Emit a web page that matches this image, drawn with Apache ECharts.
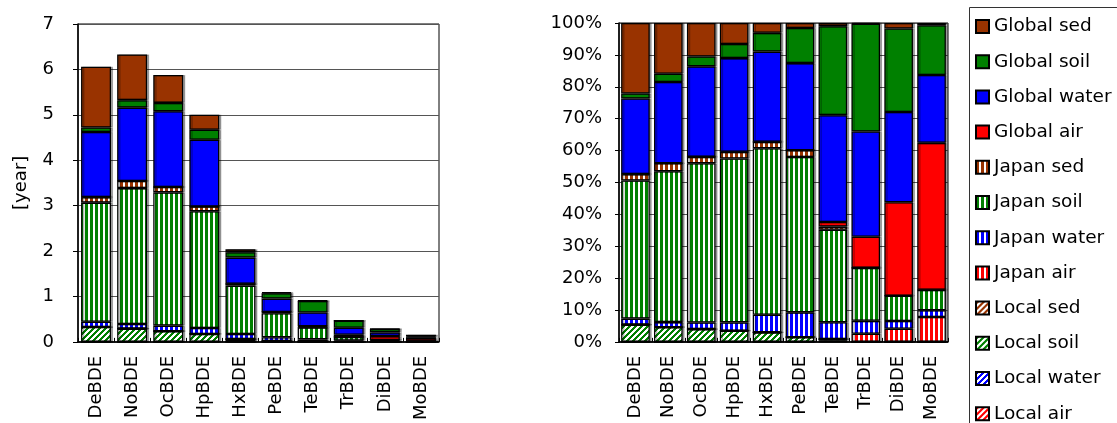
<!DOCTYPE html>
<html>
<head>
<meta charset="utf-8">
<script src="https://cdn.jsdelivr.net/npm/echarts@6/dist/echarts.min.js"></script>
<style>
  html, body { margin: 0; padding: 0; background: #fff; }
  #chart { width: 1117px; height: 423px; }
</style>
</head>
<body>
<div id="chart"></div>
<script>
// Residence time of PBDE congeners by compartment [year]
const categories = ['DeBDE', 'NoBDE', 'OcBDE', 'HpBDE', 'HxBDE', 'PeBDE', 'TeBDE', 'TrBDE', 'DiBDE', 'MoBDE'];

const localAir    = [0, 0, 0, 0, 0, 0, 0, 0, 0, 0];
const localWater  = [0, 0, 0, 0, 0, 0, 0.003, 0, 0, 0];
const localSoil   = [0.327, 0.291, 0.235, 0.175, 0.061, 0.016, 0.005, 0, 0, 0];
const localSed    = [0, 0, 0, 0, 0, 0, 0, 0, 0, 0];
const japanAir    = [0, 0, 0, 0, 0, 0, 0, 0.012, 0.012, 0.011];
const japanWater  = [0.115, 0.101, 0.123, 0.130, 0.112, 0.085, 0.048, 0.019, 0.007, 0.003];
const japanSoil   = [2.624, 2.994, 2.934, 2.570, 1.065, 0.531, 0.264, 0.078, 0.023, 0.009];
const japanSed    = [0.121, 0.158, 0.118, 0.105, 0.041, 0.023, 0.009, 0, 0, 0];
const globalAir   = [0, 0, 0, 0, 0, 0, 0.013, 0.046, 0.085, 0.065];
const globalWater = [1.436, 1.614, 1.670, 1.470, 0.577, 0.298, 0.305, 0.155, 0.082, 0.030];
const globalSoil  = [0.097, 0.165, 0.182, 0.220, 0.120, 0.120, 0.254, 0.159, 0.076, 0.022];
const globalSed   = [1.339, 1.006, 0.617, 0.330, 0.063, 0.017, 0.009, 0.001, 0.005, 0.001];

const yearTicks = [0, 1, 2, 3, 4, 5, 6, 7];
const shareTicks = [0, 10, 20, 30, 40, 50, 60, 70, 80, 90, 100];

const SED = '#993300', SOIL = '#008000', WATER = '#0000FF', AIR = '#FF0000';
const FONT = 'DejaVu Sans';

// Fill patterns: solid (global), vertical stripes (Japan), diagonal hatch (local)
function vStripes(color) {
  const c = document.createElement('canvas');
  c.width = 5; c.height = 5;
  const g = c.getContext('2d');
  g.fillStyle = '#fff'; g.fillRect(0, 0, 5, 5);
  g.fillStyle = color; g.fillRect(0, 0, 3, 5);
  return { image: c, repeat: 'repeat' };
}
function hatch(color) {
  const n = 6;
  const c = document.createElement('canvas');
  c.width = n; c.height = n;
  const g = c.getContext('2d');
  g.fillStyle = '#fff'; g.fillRect(0, 0, n, n);
  g.fillStyle = color;
  for (let x = 0; x < n; x++) {
    for (let y = 0; y < n; y++) {
      if ((x + y) % n < 3) g.fillRect(x, y, 1, 1);
    }
  }
  return { image: c, repeat: 'repeat' };
}

// Stacking order, bottom to top
const layers = [
  { name: 'Local air',    data: localAir,    fill: hatch(AIR) },
  { name: 'Local water',  data: localWater,  fill: hatch(WATER) },
  { name: 'Local soil',   data: localSoil,   fill: hatch(SOIL) },
  { name: 'Local sed',    data: localSed,    fill: hatch(SED) },
  { name: 'Japan air',    data: japanAir,    fill: vStripes(AIR) },
  { name: 'Japan water',  data: japanWater,  fill: vStripes(WATER) },
  { name: 'Japan soil',   data: japanSoil,   fill: vStripes(SOIL) },
  { name: 'Japan sed',    data: japanSed,    fill: vStripes(SED) },
  { name: 'Global air',   data: globalAir,   fill: AIR },
  { name: 'Global water', data: globalWater, fill: WATER },
  { name: 'Global soil',  data: globalSoil,  fill: SOIL },
  { name: 'Global sed',   data: globalSed,   fill: SED }
];

const totals = categories.map((_, i) => layers.reduce((s, l) => s + l.data[i], 0));

const itemStyle = (fill) => ({
  color: fill,
  borderColor: '#000',
  borderWidth: 1.3,
  shadowColor: 'rgba(0,0,0,0.3)',
  shadowOffsetX: 2,
  shadowOffsetY: 0,
  shadowBlur: 0
});

const series = [];
layers.forEach(l => {
  series.push({
    name: l.name, type: 'bar', stack: 'abs', xAxisIndex: 0, yAxisIndex: 0,
    barCategoryGap: '17%', data: l.data, itemStyle: itemStyle(l.fill),
    emphasis: { disabled: true }, animation: false
  });
});
layers.forEach(l => {
  series.push({
    name: l.name, type: 'bar', stack: 'pct', xAxisIndex: 1, yAxisIndex: 1,
    barCategoryGap: '13%', data: l.data.map((v, i) => v / totals[i] * 100),
    itemStyle: itemStyle(l.fill),
    emphasis: { disabled: true }, animation: false
  });
});

const axisText = { fontFamily: FONT, fontSize: 18, color: '#000' };

const xAxisBase = (gridIndex) => ({
  type: 'category', gridIndex, data: categories,
  axisLine: { lineStyle: { color: '#000', width: 1.5 } },
  axisTick: { show: true, inside: true, length: 4, lineStyle: { color: '#000' } },
  axisLabel: Object.assign({ rotate: 90, margin: 14, interval: 0 }, axisText),
  splitLine: { show: false }
});

const chart = echarts.init(document.getElementById('chart'), null, { renderer: 'canvas' });
chart.setOption({
  backgroundColor: '#fff',
  animation: false,
  textStyle: { fontFamily: FONT },
  grid: [
    { left: 78, top: 24, width: 361, height: 319, show: true, borderColor: '#000', borderWidth: 1, backgroundColor: 'transparent' },
    { left: 619, top: 23, width: 329, height: 321, show: true, borderColor: '#000', borderWidth: 1, backgroundColor: 'transparent' }
  ],
  xAxis: [xAxisBase(0), xAxisBase(1)],
  yAxis: [
    {
      type: 'value', gridIndex: 0,
      min: yearTicks[0], max: yearTicks[yearTicks.length - 1], interval: 1,
      name: '[year]', nameLocation: 'middle', nameGap: 48, nameRotate: 90,
      nameTextStyle: axisText,
      axisLine: { show: true, lineStyle: { color: '#000', width: 1.5 } },
      axisTick: { show: true, length: 5, lineStyle: { color: '#000' } },
      axisLabel: Object.assign({ margin: 24 }, axisText),
      splitLine: { show: true, lineStyle: { color: '#555', width: 1 } }
    },
    {
      type: 'value', gridIndex: 1,
      min: shareTicks[0], max: shareTicks[shareTicks.length - 1], interval: 10,
      axisLine: { show: true, lineStyle: { color: '#000', width: 1.5 } },
      axisTick: { show: true, length: 4, lineStyle: { color: '#000' } },
      axisLabel: Object.assign({ margin: 17, formatter: '{value}%' }, axisText),
      splitLine: { show: true, lineStyle: { color: '#555', width: 1 } }
    }
  ],
  legend: {
    orient: 'vertical',
    left: 975, top: 17,
    padding: 0,
    height: 420,
    itemWidth: 13, itemHeight: 13, itemGap: 16.2,
    icon: 'rect',
    selectedMode: false,
    data: layers.map(l => l.name).reverse(),
    textStyle: { fontFamily: FONT, fontSize: 18.5, color: '#000', lineHeight: 18 }
  },
  graphic: [
    {
      type: 'rect', left: 967, top: 5, silent: true,
      shape: { x: 0, y: 0, width: 200, height: 460 },
      style: { fill: 'none', stroke: '#333', lineWidth: 1 }
    }
  ],
  series
});
</script>
</body>
</html>
